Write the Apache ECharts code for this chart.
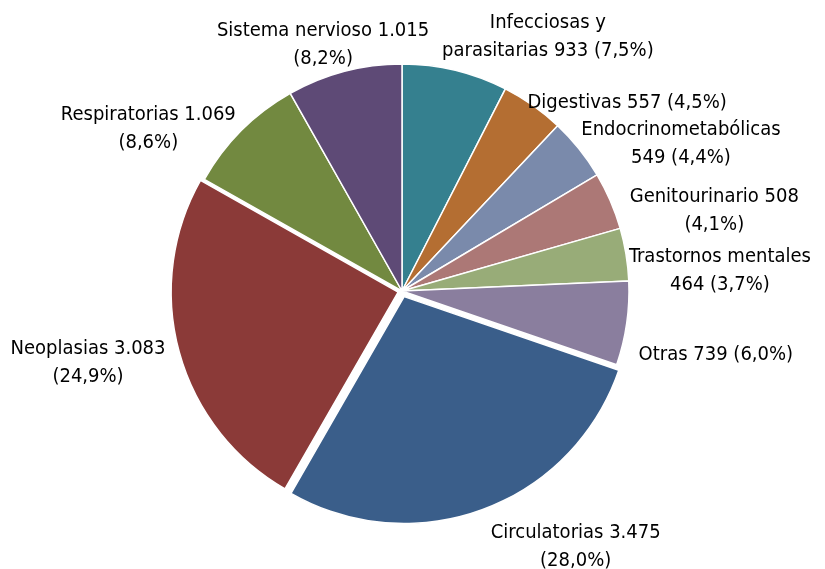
<!DOCTYPE html>
<html>
<head>
<meta charset="utf-8">
<title>Defunciones por causa</title>
<script src="https://cdn.jsdelivr.net/npm/echarts@6/dist/echarts.min.js"></script>
<style>
  html, body { margin: 0; padding: 0; background: #fff; }
  #chart { width: 825px; height: 569px; }
</style>
</head>
<body>
<div id="chart"></div>
<script>
// categorias en orden horario desde las 12
const categories = ['Infecciosas y\nparasitarias', 'Digestivas', 'Endocrinometabólicas', 'Genitourinario',
  'Trastornos mentales', 'Otras', 'Circulatorias', 'Neoplasias', 'Respiratorias', 'Sistema nervioso']
const values = [933, 557, 549, 508, 464, 739, 3475, 3083, 1069, 1015]
// donde se corta la etiqueta: 'value' = antes del numero, 'pct' = antes del %, 'none' = una linea
const labelBreaks = ['none', 'none', 'value', 'pct', 'value', 'none', 'pct', 'pct', 'pct', 'pct']
const colors = ['#35808f', '#b46e32', '#7a8aab', '#ac7876', '#98ac78', '#8a7e9e', '#3a5e8a', '#8b3a38', '#728940', '#5e4a76']

// geometria
const CX = 402
const CY = 291
const R = 227
const LABEL_GAP = 8
// porciones separadas del centro (px)
const explode = { 'Circulatorias': 6, 'Neoplasias': 4 }
// ajustes finos de etiquetas para parecerse al original
const labelNudge = {
  'Infecciosas y\nparasitarias': [-15, 1],
  'Digestivas': [-10, 4],
  'Endocrinometabólicas': [-4, 0],
  'Genitourinario': [12, 13],
  'Trastornos mentales': [-5, 18],
  'Otras': [4, 30],
  'Circulatorias': [4, 4],
  'Neoplasias': [-6, 9],
  'Respiratorias': [0, 4],
  'Sistema nervioso': [87, 8]
}

const total = values.reduce((a, b) => a + b, 0)

// angulo medio de cada porcion (radianes, horario desde las 12)
const midAngles = []
let acc = 0
values.forEach(v => {
  midAngles.push((acc + v / 2) / total * Math.PI * 2)
  acc += v
})

function fmtMiles (v) {
  return String(v).replace(/\B(?=(\d{3})+(?!\d))/g, '.')
}

const hidden = { color: 'rgba(0,0,0,0)', borderWidth: 0 }

// only: nombre de la unica porcion visible, o null para todas menos las separadas
function pieData (only) {
  return categories.map((name, i) => {
    const visible = only ? name === only : !explode[name]
    return {
      name,
      value: values[i],
      itemStyle: visible ? { color: colors[i], borderColor: '#fff', borderWidth: 1.5 } : hidden
    }
  })
}

function explodedCenter (name) {
  const i = categories.indexOf(name)
  return [CX + Math.sin(midAngles[i]) * explode[name], CY - Math.cos(midAngles[i]) * explode[name]]
}

const baseSeries = {
  type: 'pie',
  radius: R,
  startAngle: 90,
  clockwise: true,
  silent: true,
  emphasis: { disabled: true },
  label: { show: false },
  labelLine: { show: false }
}

const chart = echarts.init(document.getElementById('chart'))
chart.setOption({
  animation: false,
  textStyle: { fontFamily: '"Liberation Sans Narrow", "DejaVu Sans Condensed", sans-serif' },
  series: [
    Object.assign({}, baseSeries, {
      center: explodedCenter('Circulatorias'),
      data: pieData('Circulatorias')
    }),
    Object.assign({}, baseSeries, {
      center: explodedCenter('Neoplasias'),
      data: pieData('Neoplasias')
    }),
    Object.assign({}, baseSeries, {
      center: [CX, CY],
      data: pieData(null),
      label: {
        show: true,
        position: 'outside',
        overflow: 'none',
        color: '#000',
        fontSize: 20,
        lineHeight: 28,
        formatter: (p) => {
          const i = p.dataIndex
          const pct = (values[i] / total * 100).toFixed(1).replace('.', ',')
          const b = labelBreaks[i]
          return p.name + (b === 'value' ? '\n' : ' ') + fmtMiles(values[i]) +
            (b === 'pct' ? '\n' : ' ') + '(' + pct + '%)'
        }
      },
      labelLayout: (p) => {
        const i = p.dataIndex
        const name = categories[i]
        const ux = Math.sin(midAngles[i])
        const uy = -Math.cos(midAngles[i])
        const dist = R + LABEL_GAP + (explode[name] || 0)
        const ax = CX + ux * dist
        const ay = CY + uy * dist
        const w = p.labelRect.width
        const side = ux >= 0 ? 1 : -1
        const n = labelBreaks[i] === 'none' && name.indexOf('\n') < 0 ? 1 : 2
        const nudge = labelNudge[name] || [0, 0]
        return {
          x: ax + side * w / 2 + nudge[0],
          y: ay + (Math.abs(uy) > 0.9 ? uy * n * 14 : 0) + nudge[1],
          align: 'center',
          verticalAlign: 'middle'
        }
      }
    })
  ]
})
</script>
</body>
</html>
